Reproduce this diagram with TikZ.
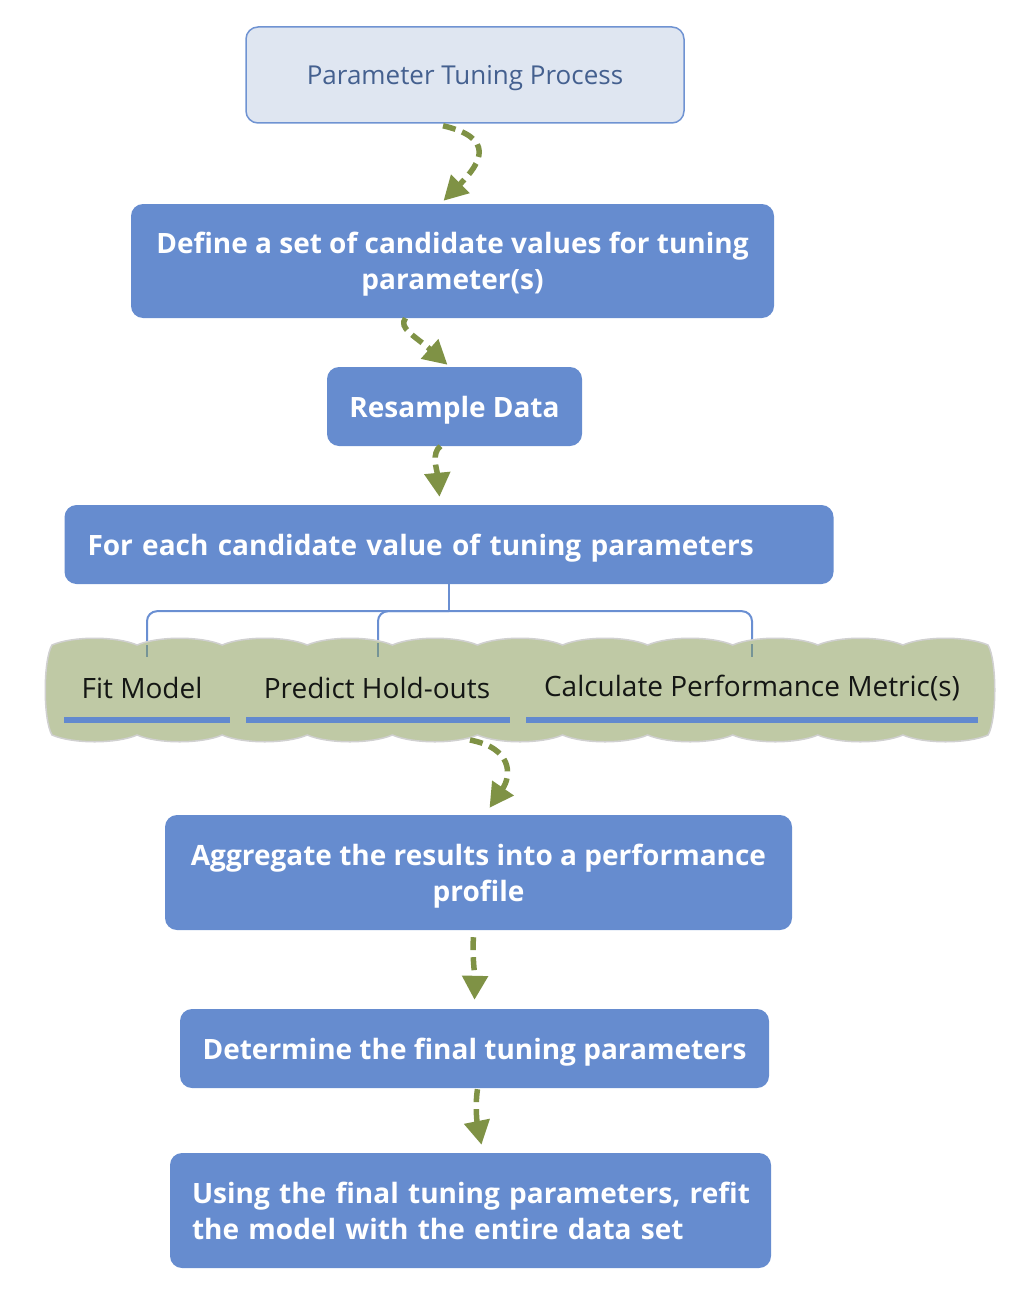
\documentclass[tikz,border=0pt]{standalone}
\usepackage{fontspec}
\setmainfont{Open Sans}
\usetikzlibrary{arrows.meta,calc}
\definecolor{boxblue}{RGB}{102,140,207}
\definecolor{titlefill}{RGB}{223,230,241}
\definecolor{titleline}{RGB}{111,147,210}
\definecolor{titletext}{RGB}{68,96,143}
\definecolor{arrgreen}{RGB}{127,146,69}
\definecolor{cloudfill}{RGB}{191,201,165}
\definecolor{cloudline}{RGB}{208,208,208}
\definecolor{ulblue}{RGB}{98,137,207}
\definecolor{connblue}{RGB}{106,143,210}
\definecolor{conninner}{RGB}{118,148,150}
\definecolor{cloudtext}{RGB}{20,22,20}
\begin{document}
\begin{tikzpicture}[x=1pt,y=-1pt,
  box/.style={draw=none, fill=boxblue, rounded corners=12pt, text=white,
    font=\fontsize{28}{36}\selectfont\bfseries, align=center, inner sep=0pt, text depth=0pt},
  titlebox/.style={draw=titleline, line width=1.5pt, fill=titlefill, rounded corners=12pt,
    text=titletext, font=\fontsize{26}{30}\selectfont, inner sep=0pt, text depth=0pt},
  cloudlabel/.style={text=cloudtext, font=\fontsize{28}{32}\selectfont, inner sep=0pt},
  flow/.style={draw=arrgreen, line width=5.5pt, dash pattern=on 13pt off 7pt,
    -{Triangle[length=24pt,width=25pt]}},
  conn/.style={draw=connblue, line width=2pt},
  underl/.style={draw=ulblue, line width=5.5pt},
]
\useasboundingbox (0,0) rectangle (1028,1300);

% boxes
\node[titlebox, minimum width=438pt, minimum height=96pt] (title) at (465,75) {Parameter Tuning Process};
\node[box, minimum width=643pt, minimum height=114pt] (define) at (452.5,261)
  {Define a set of candidate values for tuning\\parameter(s)};
\node[box, minimum width=255pt, minimum height=79pt] (resample) at (454.5,406.5) {Resample Data};
\node[box, minimum height=79pt, inner xsep=23pt, text width=723pt, align=left] (each) at (449,544.5)
  {For each candidate value of tuning parameters};
\node[box, minimum width=627pt, minimum height=115pt] (aggr) at (478.5,872.5)
  {Aggregate the results into a performance\\profile};
\node[box, minimum width=589pt, minimum height=79pt] (determ) at (474.5,1048.5)
  {Determine the final tuning parameters};
\node[box, minimum height=115pt, inner xsep=22pt, text width=557pt, align=left, text depth=] (using) at (470.5,1210.5)
  {\mbox{Using the final tuning parameters, refit}\\\mbox{the model with the entire data set}};

% connector coordinates
\coordinate (hub) at ($(each.south)+(0,27)$);
\coordinate (fitTop) at (147,657);
\coordinate (predTop) at (378,657);
\coordinate (calcTop) at (752,657);
\coordinate (fitIn) at (147,645);
\coordinate (predIn) at (378,643);
\coordinate (calcIn) at (752,644);
\coordinate (cloudBot) at (470,740);

\draw[conn] (each.south) -- (hub);
\draw[conn, rounded corners=10pt] (hub) -| (fitTop);
\draw[conn, rounded corners=10pt] (hub) -| (predTop);
\draw[conn, rounded corners=10pt] (hub) -| (calcTop);

% cloud band
\fill[cloudfill, draw=cloudline, line width=1.5pt]
  (52,645)
  \foreach \i in {0,...,10} { .. controls ({52+85.09*\i+21},636) and ({52+85.09*\i+64},636) .. ({52+85.09*(\i+1)},645) }
  .. controls (997,660) and (997,720) .. (988,735)
  \foreach \i in {0,...,10} { .. controls ({988-85.09*\i-21},744) and ({988-85.09*\i-64},744) .. ({988-85.09*(\i+1)},735) }
  .. controls (43,720) and (43,660) .. (52,645) -- cycle;

\draw[conn, draw=conninner] (fitIn) -- (fitTop);
\draw[conn, draw=conninner] (predIn) -- (predTop);
\draw[conn, draw=conninner] (calcIn) -- (calcTop);

\node[cloudlabel] (fit) at (142,688) {Fit Model};
\node[cloudlabel] (pred) at (377,688) {Predict Hold-outs};
\node[cloudlabel] (calc) at (752,688) {Calculate Performance Metric(s)};

\draw[underl] (64,720) -- (230,720);
\draw[underl] (246,720) -- (510,720);
\draw[underl] (526,720) -- (978,720);

% flow arrows
\draw[flow] ($(title.south)+(-22,2)$) .. controls (495,138) and (482,162) .. ($(define.north)+(-9,-3)$);
\draw[flow] ($(define.south)+(-47,0)$) .. controls (398,328) and (415,336) .. ($(resample.north)+(-7,-2)$);
\draw[flow] ($(resample.south)+(-14,0)$) .. controls (431,453) and (437,470) .. ($(each.north)+(-9.5,-8)$);
\draw[flow] (cloudBot) .. controls (512,748) and (512,775) .. ($(aggr.north)+(11,-7)$);
\draw[flow] ($(aggr.south)+(-5,7)$) .. controls (472,955) and (475,978) .. ($(determ.north)+(0,-9)$);
\draw[flow] ($(determ.south)+(3,1)$) .. controls (475,1105) and (477,1122) .. ($(using.north)+(11,-8)$);
\end{tikzpicture}
\end{document}
